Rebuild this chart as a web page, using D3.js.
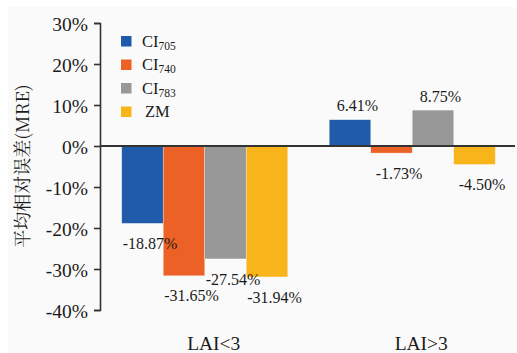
<!DOCTYPE html>
<html>
<head>
<meta charset="utf-8">
<script src="https://cdn.jsdelivr.net/npm/d3@7"></script>
<style>
  html, body { margin: 0; padding: 0; background: #ffffff; }
  svg { display: block; }
</style>
</head>
<body>
<svg id="chart" width="517" height="353"></svg>
<script>
// Groups along the x axis
const categories = ["LAI<3", "LAI>3"];
// Series (legend entries): base name and subscript
const seriesKeys = ["CI705", "CI740", "CI783", "ZM"];
const seriesBase = ["CI", "CI", "CI", "ZM"];
const seriesSub = ["705", "740", "783", ""];
const seriesColors = ["#1f5ba8", "#ec6126", "#989898", "#f8b41b"];
// Mean relative error (%) per series, one value per category
const valuesCI705 = [-18.87, 6.41];
const valuesCI740 = [-31.65, -1.73];
const valuesCI783 = [-27.54, 8.75];
const valuesZM = [-31.94, -4.50];
// Y axis ticks
const yTicks = [30, 20, 10, 0, -10, -20, -30, -40];
const yTitle = "平均相对误差(MRE)";

const seriesValues = [valuesCI705, valuesCI740, valuesCI783, valuesZM];

const SERIF = "'Times New Roman', 'Liberation Serif', serif";
const CJK = "'Noto Serif CJK SC', 'Times New Roman', serif";
const INK = "#1a1a1a";

const svg = d3.select("#chart");
const W = 517, H = 353;

// Plot backdrop
svg.append("rect").attr("x", 8).attr("y", 7).attr("width", W - 8).attr("height", H - 7)
  .attr("fill", "#fafafa");

const axisX = 100;
const y = d3.scaleLinear().domain([-40, 30]).range([310, 23]);
const x0 = d3.scaleBand().domain(categories).range([101, 516])
  .paddingInner(0.2).paddingOuter(0.1);
const x1 = d3.scaleBand().domain(seriesKeys).range([0, x0.bandwidth()]);

// Bars
const rows = [];
categories.forEach((c, ci) => {
  seriesKeys.forEach((k, si) => {
    rows.push({ cat: c, key: k, color: seriesColors[si], value: seriesValues[si][ci] });
  });
});

svg.append("g").selectAll("rect").data(rows).join("rect")
  .attr("x", d => x0(d.cat) + x1(d.key))
  .attr("y", d => y(Math.max(0, d.value)))
  .attr("width", x1.bandwidth())
  .attr("height", d => Math.abs(y(d.value) - y(0)))
  .attr("fill", d => d.color)
  .attr("stroke", "#ffffff").attr("stroke-opacity", 0.5).attr("stroke-width", 0.6);

// Value labels
svg.append("g").selectAll("text").data(rows).join("text")
  .attr("x", d => x0(d.cat) + x1(d.key) + x1.bandwidth() / 2 + 7.5)
  .attr("y", d => d.value >= 0 ? y(d.value) - 14 : y(d.value) + 20)
  .attr("dy", "0.35em")
  .attr("text-anchor", "middle")
  .style("font-family", SERIF).style("font-size", "16px").style("fill", INK)
  .text(d => d.value.toFixed(2) + "%");

// Zero line
svg.append("line")
  .attr("x1", axisX).attr("x2", 515)
  .attr("y1", y(0)).attr("y2", y(0))
  .attr("stroke", "#333333").attr("stroke-width", 1.8);

// Y axis
const yAxis = d3.axisLeft(y).tickValues(yTicks).tickSize(6).tickPadding(6)
  .tickFormat(d => d + "%");
const gy = svg.append("g").attr("transform", `translate(${axisX},0)`).call(yAxis);
gy.select(".domain").attr("stroke", "#333333").attr("stroke-width", 1.6);
gy.selectAll(".tick line").attr("stroke", "#333333").attr("stroke-width", 1.6);
gy.selectAll(".tick text")
  .style("fill", INK)
  .style("font-family", SERIF)
  .style("font-size", "19.5px")
  .attr("dy", "0.36em");

// Category labels
svg.append("g").selectAll("text").data(categories).join("text")
  .attr("x", d => x0(d) + x0.bandwidth() / 2 + 9)
  .attr("y", 350)
  .attr("text-anchor", "middle")
  .style("font-family", SERIF).style("font-size", "19.5px").style("fill", INK)
  .text(d => d);

// Y title
svg.append("text")
  .attr("transform", "translate(29,166) rotate(-90)")
  .attr("text-anchor", "middle")
  .style("font-family", CJK)
  .style("font-size", "18px")
  .style("fill", INK)
  .text(yTitle);

// Legend
const legend = svg.append("g").selectAll("g").data(seriesKeys).join("g")
  .attr("transform", (d, i) => `translate(121,${36 + i * 23.5})`);
legend.append("rect").attr("width", 10.5).attr("height", 10.5)
  .attr("fill", (d, i) => seriesColors[i]);
const lt = legend.append("text")
  .attr("x", (d, i) => seriesSub[i] ? 21 : 24)
  .attr("y", 10.5)
  .style("font-family", SERIF).style("font-size", "16.5px").style("fill", INK);
lt.append("tspan").text((d, i) => seriesBase[i]);
lt.append("tspan").attr("dy", 3).style("font-size", "11.5px").text((d, i) => seriesSub[i]);
</script>
</body>
</html>
